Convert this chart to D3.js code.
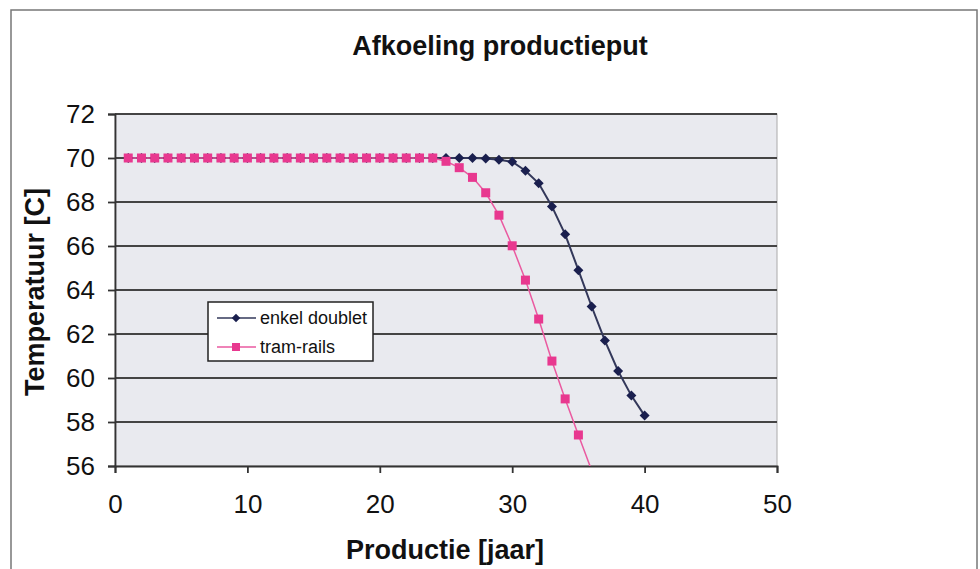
<!DOCTYPE html>
<html><head><meta charset="utf-8">
<script src="https://cdn.jsdelivr.net/npm/d3@7"></script>
<style>body{margin:0;background:#fff}svg{display:block}text{font-family:"Liberation Sans",Arial,sans-serif;fill:#111}</style>
</head><body>
<script>
const years = d3.range(1, 41);
const enkelDoublet = [70,70,70,70,70,70,70,70,70,70,70,70,70,70,70,70,70,70,70,70,70,70,70,70,70,70,70,69.98,69.92,69.83,69.42,68.85,67.8,66.53,64.9,63.25,61.7,60.32,59.2,58.29];
const tramYears = d3.range(1, 37);
const tramRails = [70,70,70,70,70,70,70,70,70,70,70,70,70,70,70,70,70,70,70,70,70,70,70,70,69.85,69.56,69.12,68.42,67.4,66.01,64.45,62.68,60.77,59.05,57.41,55.8];
const xTicks = [0,10,20,30,40,50];
const yTicks = [56,58,60,62,64,66,68,70,72];
const seriesNames = ["enkel doublet","tram-rails"];

const W=980,H=569;
const svg=d3.select("body").append("svg").attr("width",W).attr("height",H);
svg.append("rect").attr("x",11).attr("y",10).attr("width",966).attr("height",H).attr("fill","#fff").attr("stroke","#777").attr("stroke-width",1.5);

const x=d3.scaleLinear().domain([0,50]).range([115,777]);
const y=d3.scaleLinear().domain([56,72]).range([466,114]);

svg.append("rect").attr("x",x(0)).attr("y",y(72)).attr("width",x(50)-x(0)).attr("height",y(56)-y(72)).attr("fill","#e9eaef").attr("stroke","#aaa").attr("stroke-width",1);

// gridlines
svg.append("g").selectAll("line").data(yTicks.filter(d=>d>56)).join("line")
 .attr("x1",x(0)).attr("x2",x(50)).attr("y1",d=>y(d)).attr("y2",d=>y(d))
 .attr("stroke","#444").attr("stroke-width",1.8);

// axes
const gx=svg.append("g").attr("transform",`translate(0,${y(56)})`)
 .call(d3.axisBottom(x).tickValues(xTicks).tickSize(7).tickPadding(22).tickFormat(d3.format("d")));
const gy=svg.append("g").attr("transform",`translate(${x(0)},0)`)
 .call(d3.axisLeft(y).tickValues(yTicks).tickSize(7).tickPadding(13).tickFormat(d3.format("d")));
[gx,gy].forEach(g=>{g.selectAll("path,line").attr("stroke","#333").attr("stroke-width",1.8);
 g.selectAll("text").attr("font-size",26).attr("fill","#111").style("font-family","'Liberation Sans',Arial,sans-serif");});

svg.append("clipPath").attr("id","clip").append("rect").attr("x",x(0)).attr("y",y(72)-6).attr("width",x(50)-x(0)+6).attr("height",y(56)-y(72)+6);

const plot=svg.append("g").attr("clip-path","url(#clip)");
const navy="#1a1f4e", navyLine="#33385a", pink="#e8388f", pinkLine="#ea5aa0";

const line=d3.line().x(d=>x(d[0])).y(d=>y(d[1]));
const eData=years.map((d,i)=>[d,enkelDoublet[i]]);
const tData=tramYears.map((d,i)=>[d,tramRails[i]]);

plot.append("path").datum(eData).attr("d",line).attr("fill","none").attr("stroke",navyLine).attr("stroke-width",2);
plot.append("path").datum(tData).attr("d",line).attr("fill","none").attr("stroke",pinkLine).attr("stroke-width",1.5);

const diamond=d3.symbol().type(d3.symbolSquare).size(50);
plot.append("g").selectAll("path").data(eData).join("path")
 .attr("transform",d=>`translate(${x(d[0])},${y(d[1])}) rotate(45)`).attr("d",diamond).attr("fill",navy);
plot.append("g").selectAll("rect").data(tData.filter(d=>d[1]>=56)).join("rect")
 .attr("x",d=>x(d[0])-4.5).attr("y",d=>y(d[1])-4.5).attr("width",9).attr("height",9).attr("fill",pink);

// legend
const lg=svg.append("g");
lg.append("rect").attr("x",208).attr("y",302).attr("width",165).attr("height",59).attr("fill","#fff").attr("stroke","#222").attr("stroke-width",1.5);
const items=[{n:seriesNames[0],c:navy,lc:navyLine,t:"d"},{n:seriesNames[1],c:pink,lc:pinkLine,t:"s"}];
items.forEach((it,i)=>{
 const yy=318+i*29;
 lg.append("line").attr("x1",217).attr("x2",256).attr("y1",yy).attr("y2",yy).attr("stroke",it.lc).attr("stroke-width",1.5);
 if(it.t==="d") lg.append("path").attr("transform",`translate(236,${yy}) rotate(45)`).attr("d",d3.symbol().type(d3.symbolSquare).size(36)).attr("fill",it.c);
 else lg.append("rect").attr("x",232).attr("y",yy-4).attr("width",8).attr("height",8).attr("fill",it.c);
 lg.append("text").attr("x",260).attr("y",yy+6).attr("font-size",18).text(it.n);
});

svg.append("text").attr("x",500).attr("y",55).attr("text-anchor","middle").attr("font-size",27).attr("font-weight","bold").text("Afkoeling productieput");
svg.append("text").attr("x",445).attr("y",559).attr("text-anchor","middle").attr("font-size",27).attr("font-weight","bold").text("Productie [jaar]");
svg.append("text").attr("transform","translate(44,292) rotate(-90)").attr("text-anchor","middle").attr("font-size",27).attr("font-weight","bold").text("Temperatuur [C]");
</script>
</body></html>
